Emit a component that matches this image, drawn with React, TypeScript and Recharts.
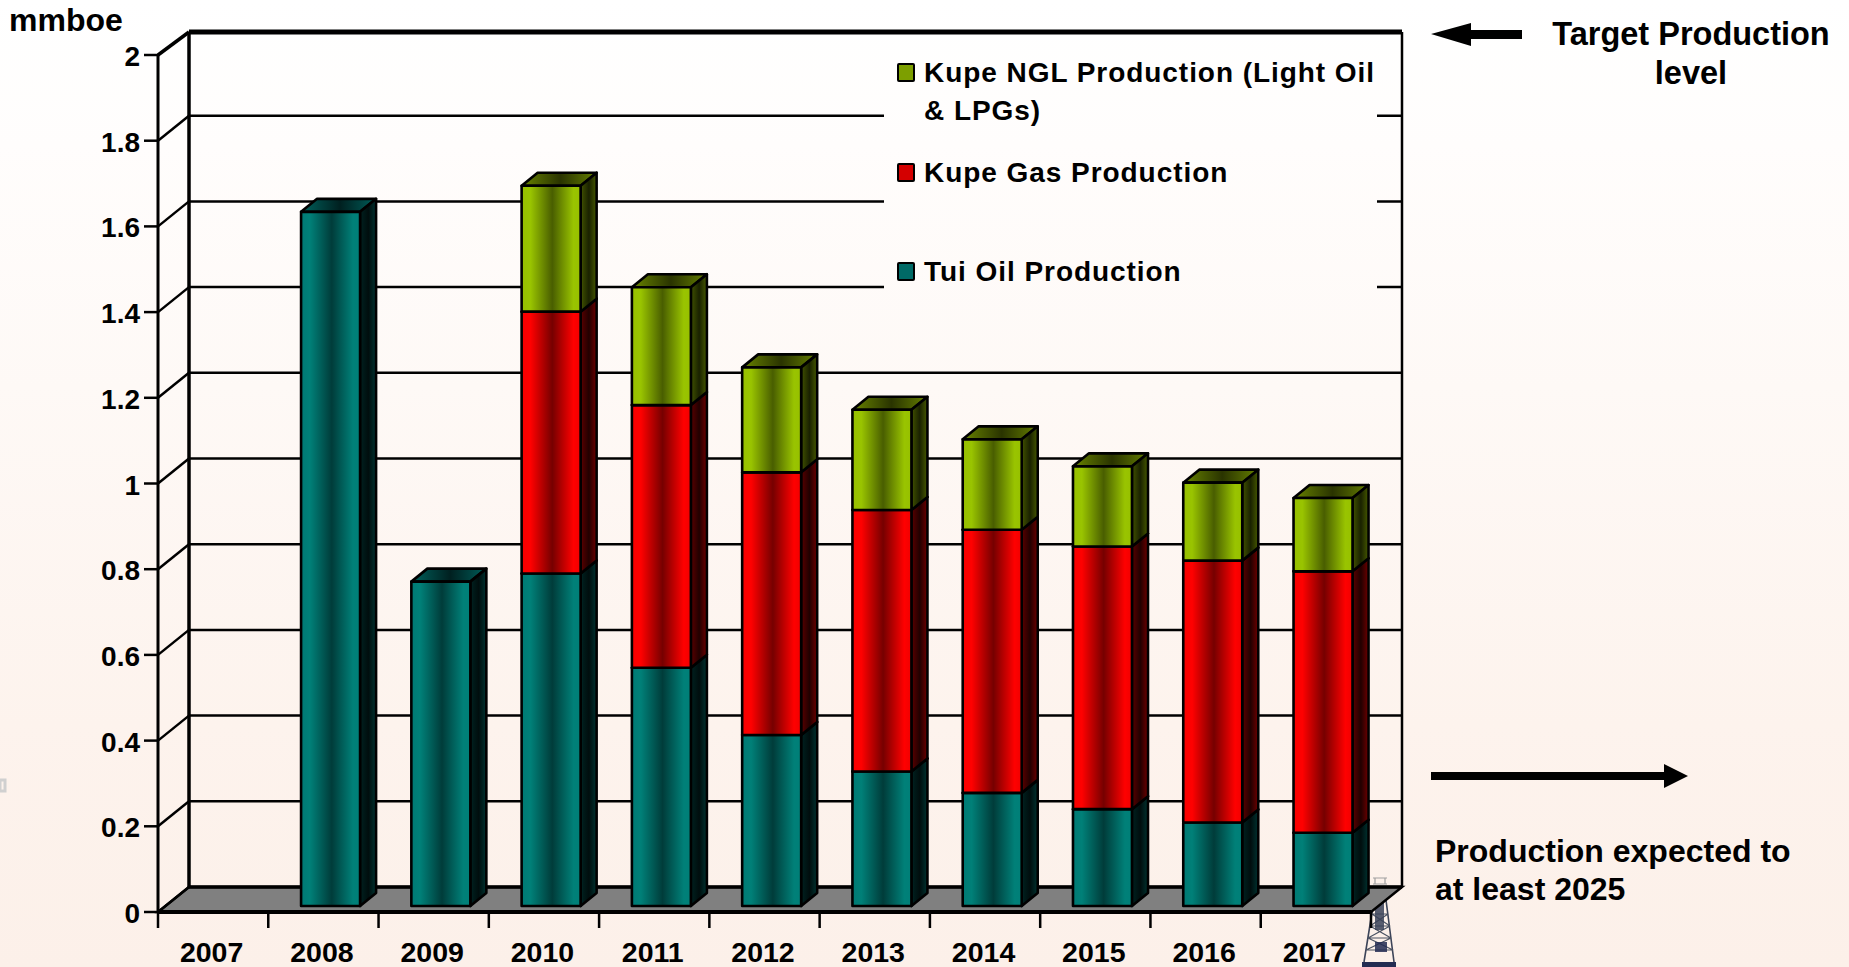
import React from "react";
import { ComposedChart, Bar, XAxis, YAxis, CartesianGrid, Legend } from "recharts";

const years = ["2007", "2008", "2009", "2010", "2011", "2012", "2013", "2014", "2015", "2016", "2017"];
const tuiOil = [null, 1.62, 0.757, 0.776, 0.556, 0.399, 0.314, 0.264, 0.226, 0.195, 0.171];
const kupeGas = [null, null, null, 0.611, 0.613, 0.613, 0.61, 0.614, 0.613, 0.611, 0.61];
const kupeNgl = [null, null, null, 0.294, 0.275, 0.245, 0.234, 0.211, 0.187, 0.182, 0.171];
const yTicks = [0, 0.2, 0.4, 0.6, 0.8, 1, 1.2, 1.4, 1.6, 1.8, 2];
const legendRows = [
  { key: "ngl", lines: ["Kupe NGL Production (Light Oil", "& LPGs)"], top: 55 },
  { key: "gas", lines: ["Kupe Gas Production"], top: 155 },
  { key: "tui", lines: ["Tui Oil Production"], top: 254 },
];

const data = years.map((year, i) => ({ year, tui: tuiOil[i], gas: kupeGas[i], ngl: kupeNgl[i] }));

const FONT = "'Liberation Sans', Arial, sans-serif";
const BG = "linear-gradient(180deg, #ffffff 0%, #fffdfc 15%, #fef9f6 40%, #fdf3ed 75%, #fcf0e9 100%)";

const PLOT_L = 158;
const PLOT_R = 1371;
const PLOT_T = 55;
const PLOT_B = 912;
const BAND = (PLOT_R - PLOT_L) / years.length;
const WALL_X = 31;
const WALL_Y = 25;
const TOP_Y = 32;
const BAR_DX = 6.8;
const BAR_DY = -6;
const DEPTH_X = 16;
const DEPTH_Y = 13;

const palette: Record<string, string[][]> = {
  tui: [
    ["#007a74", "#008078", "#003c3a", "#008078", "#007f78"],
    ["#00302e", "#001c1b", "#000e0e", "#002a28", "#003a38"],
    ["#00605c", "#004e4b", "#002020", "#004e4b", "#00605c"],
  ],
  gas: [
    ["#f80000", "#ff0000", "#760000", "#ff0000", "#f00000"],
    ["#6a0000", "#4a0000", "#220000", "#5c0000", "#9a0000"],
    ["#a00000", "#800000", "#400000", "#800000", "#a00000"],
  ],
  ngl: [
    ["#97c000", "#99c400", "#495e00", "#99c400", "#97c000"],
    ["#4c6000", "#364400", "#1a2200", "#3c4c00", "#566c00"],
    ["#708c00", "#566c00", "#2a3400", "#566c00", "#708c00"],
  ],
};
const stops = ["0%", "15%", "52%", "88%", "100%"];

function Gradients() {
  return (
    <defs>
      {Object.keys(palette).flatMap((k) =>
        palette[k].map((cols, f) => (
          <linearGradient key={k + f} id={`g-${k}-${f}`} x1="0" y1="0" x2="1" y2="0">
            {cols.map((c, i) => (
              <stop key={i} offset={stops[i]} stopColor={c} />
            ))}
          </linearGradient>
        ))
      )}
    </defs>
  );
}

function box(name: string) {
  return function BoxShape(props: any) {
    const { x, y, width, height } = props;
    if (!height || height <= 0) return null;
    const l = x + BAR_DX;
    const t = y + BAR_DY;
    const r = l + width;
    const b = t + height;
    return (
      <g stroke="#000" strokeWidth={2.6} strokeLinejoin="round">
        <polygon
          points={`${l},${t} ${l + DEPTH_X},${t - DEPTH_Y} ${r + DEPTH_X},${t - DEPTH_Y} ${r},${t}`}
          fill={`url(#g-${name}-2)`}
        />
        <polygon
          points={`${r},${t} ${r + DEPTH_X},${t - DEPTH_Y} ${r + DEPTH_X},${b - DEPTH_Y} ${r},${b}`}
          fill={`url(#g-${name}-1)`}
        />
        <rect x={l} y={t} width={width} height={height} fill={`url(#g-${name}-0)`} />
      </g>
    );
  };
}

function wallLine(props: any) {
  const { x1, x2, y1, index } = props;
  const isFloor = Math.abs(y1 - PLOT_B) < 1;
  const isTop = Math.abs(y1 - PLOT_T) < 1;
  const bx1 = x1 + WALL_X;
  const bx2 = x2 + WALL_X;
  const by = isTop ? TOP_Y : y1 - WALL_Y;
  return (
    <g key={`wall-${index}`} stroke="#000">
      {isFloor && (
        <>
          <polygon
            points={`${x1},${y1} ${bx1},${by} ${bx2},${by} ${x2},${y1}`}
            fill="#808080"
            strokeWidth={2.5}
          />
          <line x1={bx1} y1={by} x2={bx2} y2={by} strokeWidth={3.5} />
          <line x1={bx1} y1={by} x2={bx1} y2={TOP_Y} strokeWidth={3.5} />
          <line x1={bx2} y1={by} x2={bx2} y2={TOP_Y} strokeWidth={2.5} />
        </>
      )}
      {!isFloor && <line x1={bx1} y1={by} x2={bx2} y2={by} strokeWidth={isTop ? 5 : 2.5} />}
      <line x1={x1} y1={y1} x2={bx1} y2={by} strokeWidth={isTop ? 3.5 : 2.5} />
    </g>
  );
}

function XTick(props: any) {
  const { x, y, payload, index } = props;
  const left = x - BAND / 2;
  return (
    <g>
      <line x1={left} y1={PLOT_B} x2={left} y2={PLOT_B + 16} stroke="#000" strokeWidth={2.5} />
      {index === years.length - 1 && (
        <line x1={x + BAND / 2} y1={PLOT_B} x2={x + BAND / 2} y2={PLOT_B + 16} stroke="#000" strokeWidth={2.5} />
      )}
      <text x={x - 1.5} y={y + 42} textAnchor="middle" fontFamily={FONT} fontWeight={700} fontSize={28.5} fill="#000">
        {payload.value}
      </text>
    </g>
  );
}

function YTick(props: any) {
  const { x, y, payload } = props;
  return (
    <text x={x} y={y + 11} textAnchor="end" fontFamily={FONT} fontWeight={700} fontSize={28} fill="#000">
      {payload.value}
    </text>
  );
}

const swatchColor: Record<string, string> = { ngl: "#7d9f00", gas: "#d40000", tui: "#006a66" };

function LegendBox() {
  return (
    <div
      style={{
        position: "absolute",
        left: 884,
        top: 45,
        width: 493,
        height: 256,
        background: BG,
        backgroundAttachment: "fixed",
        fontFamily: FONT,
        fontWeight: 700,
        fontSize: 28,
        color: "#000",
      }}
    >
      {legendRows.map((row) => (
        <div key={row.key} style={{ position: "absolute", left: 0, top: row.top - 45 }}>
          <span
            style={{
              position: "absolute",
              left: 13,
              top: 8,
              width: 14,
              height: 15,
              border: "2px solid #000",
              borderRadius: 2,
              background: swatchColor[row.key],
            }}
          />
          {row.lines.map((line, i) => (
            <div key={i} style={{ position: "absolute", left: 40, top: i * 38, lineHeight: "36px", whiteSpace: "nowrap", letterSpacing: 0.95 }}>
              {line}
            </div>
          ))}
        </div>
      ))}
    </div>
  );
}

function Rig() {
  return (
    <svg width={70} height={100} style={{ position: "absolute", left: 1345, top: 870 }} viewBox="0 0 70 100">
      <g fill="none">
        <path d="M28 8 L42 8 M30 8 L30 14 M40 8 L40 14 M28 14 L42 14" stroke="#a0a0a0" strokeWidth={1.2} />
        <path d="M29 30 L19 92 M41 30 L49 92" stroke="#3c4458" strokeWidth={1.6} />
        <path d="M27 44 L43 44 M25 56 L45 56 M23 68 L46 68 M21 80 L48 80 M27 44 L45 56 M43 44 L25 56 M25 56 L46 68 M45 56 L23 68 M23 68 L48 80 M46 68 L21 80" stroke="#4a5262" strokeWidth={1.2} />
      </g>
      <rect x={30} y={30} width={9} height={30} fill="#3a4258" opacity={0.85} />
      <rect x={30} y={72} width={12} height={10} fill="#232c52" opacity={0.85} />
      <rect x={17} y={92} width={34} height={8} fill="#232c52" />
    </svg>
  );
}

const annoText: React.CSSProperties = {
  position: "absolute",
  fontFamily: FONT,
  fontWeight: 700,
  color: "#000",
  whiteSpace: "nowrap",
};

export default function App() {
  return (
    <div style={{ position: "absolute", left: 0, top: 0, width: 1849, height: 967, overflow: "hidden", background: BG, backgroundAttachment: "fixed" }}>
      <Rig />
      <ComposedChart
        width={1849}
        height={967}
        data={data}
        margin={{ top: PLOT_T, right: 1849 - PLOT_R, bottom: 0, left: 0 }}
        barCategoryGap={0}
        style={{ position: "absolute", left: 0, top: 0 }}
      >
        <Gradients />
        <CartesianGrid vertical={false} horizontal={wallLine} stroke="#000" />
        <XAxis
          dataKey="year"
          height={967 - PLOT_B}
          interval={0}
          tick={<XTick />}
          tickLine={false}
          axisLine={{ stroke: "#000", strokeWidth: 4 }}
        />
        <YAxis
          width={PLOT_L}
          domain={[0, 2]}
          ticks={yTicks}
          interval={0}
          tickSize={14}
          tickMargin={4}
          tickLine={{ stroke: "#000", strokeWidth: 2.5 }}
          axisLine={{ stroke: "#000", strokeWidth: 3 }}
          tick={<YTick />}
        />
        <Bar dataKey="tui" name="Tui Oil Production" stackId="p" barSize={59} shape={box("tui")} isAnimationActive={false} />
        <Bar dataKey="gas" name="Kupe Gas Production" stackId="p" barSize={59} shape={box("gas")} isAnimationActive={false} />
        <Bar dataKey="ngl" name="Kupe NGL Production (Light Oil & LPGs)" stackId="p" barSize={59} shape={box("ngl")} isAnimationActive={false} />
        <Legend content={() => <LegendBox />} wrapperStyle={{ position: "absolute", left: 0, top: 0, width: 0, height: 0, bottom: "auto" }} />
      </ComposedChart>

      <div style={{ ...annoText, left: 9, top: 1, fontSize: 32, lineHeight: "38px" }}>mmboe</div>
      <div style={{ ...annoText, left: 1551, top: 15, width: 280, fontSize: 32.5, lineHeight: "39px", textAlign: "center" }}>
        Target Production
        <br />
        level
      </div>
      <div style={{ ...annoText, left: 1435, top: 832, fontSize: 32, lineHeight: "38px" }}>
        Production expected to
        <br />
        at least 2025
      </div>
      <svg width={1849} height={967} style={{ position: "absolute", left: 0, top: 0, pointerEvents: "none" }}>
        <polygon points="1431,34 1471,23 1471,30 1522,30 1522,39 1471,39 1471,46" fill="#000" />
        <polygon points="1431,772 1664,772 1664,764 1688,776 1664,788 1664,780 1431,780" fill="#000" />
        <rect x={0} y={780} width={5} height={11} fill="none" stroke="#d0d0d0" strokeWidth={3} />
      </svg>
    </div>
  );
}
